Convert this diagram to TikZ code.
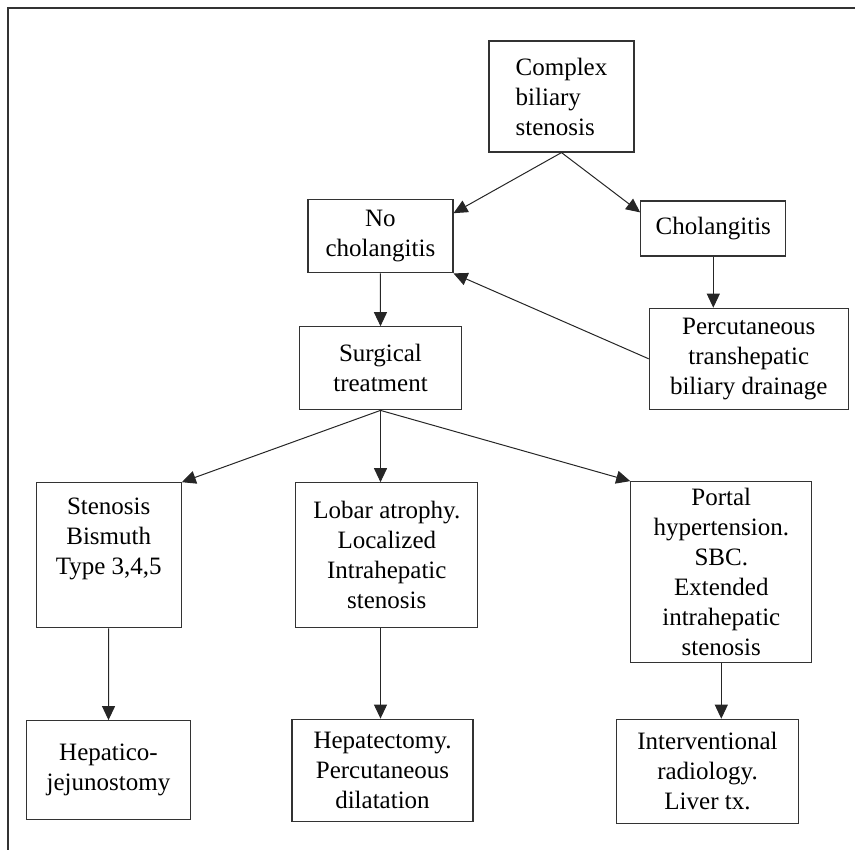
\documentclass[tikz,border=0pt]{standalone}
\usepackage{fontspec}
\setmainfont{Liberation Serif}
\usetikzlibrary{arrows.meta}

\tikzset{
  flowbox/.style={draw=black!80, line width=1.2pt, inner sep=0pt, align=center,
    font=\fontsize{25}{30}\selectfont},
  flowarrow/.style={draw=black!85, line width=1pt, -{Triangle[length=14pt,width=13pt]}},
}

\begin{document}
\begin{tikzpicture}[x=1pt,y=-1pt]
  \useasboundingbox (0,0) rectangle (855,850);
  % frame
  \draw[line width=1.5pt, black!80] (8,8) rectangle (864,864);

  % level 0
  \node[flowbox, align=left, minimum width=145pt, minimum height=111pt] (cbs) at (561.5,96.5) {Complex\\biliary\\stenosis};
  % level 1
  \node[flowbox, minimum width=145pt, minimum height=73pt] (nochol) at (380.4,236.3) {No\\cholangitis};
  \node[flowbox, minimum width=145pt, minimum height=55pt] (chol) at (713.3,228.5) {Cholangitis};
  % level 2
  \node[flowbox, minimum width=162pt, minimum height=83pt] (surg) at (380.5,368.3) {Surgical\\treatment};
  \node[flowbox, minimum width=199pt, minimum height=101pt] (ptbd) at (748.8,358.8) {Percutaneous\\transhepatic\\biliary drainage};
  % level 3
  \node[flowbox, minimum width=145pt, minimum height=145pt] (sten) at (108.7,555.3) {Stenosis\\Bismuth\\Type 3,4,5\\\strut};
  \node[flowbox, minimum width=182pt, minimum height=145pt] (lob) at (386.8,555.3) {Lobar atrophy.\\Localized\\Intrahepatic\\stenosis};
  \node[flowbox, minimum width=181pt, minimum height=181pt] (port) at (721.3,572.2) {Portal\\hypertension.\\SBC.\\Extended\\intrahepatic\\stenosis};
  % level 4
  \node[flowbox, minimum width=164pt, minimum height=99pt] (hep) at (108.5,770.2) {Hepatico-\\jejunostomy};
  \node[flowbox, minimum width=181pt, minimum height=102pt] (hepx) at (382.5,770.2) {Hepatectomy.\\Percutaneous\\dilatation};
  \node[flowbox, minimum width=182pt, minimum height=104pt] (intv) at (707.5,771.3) {Interventional\\radiology.\\Liver tx.};

  % level 0
  \draw[flowarrow] (cbs.south) -- ([yshift=-14pt]nochol.north east);
  \draw[flowarrow] (cbs.south) -- ([yshift=-12pt]chol.north west);
  % level 1
  \draw[flowarrow] (chol.south) -- (chol.south |- ptbd.north);
  \draw[flowarrow] (ptbd.west) -- (nochol.south east);
  \draw[flowarrow] (nochol.south) -- (surg.north);
  % level 2
  \draw[flowarrow] (surg.south) -- (sten.north east);
  \draw[flowarrow] (surg.south) -- (surg.south |- lob.north);
  \draw[flowarrow] (surg.south) -- (port.north west);
  % level 3
  \draw[flowarrow] (sten.south) -- (hep.north);
  \draw[flowarrow] (surg.south |- lob.south) -- (surg.south |- hepx.north);
  \draw[flowarrow] (port.south) -- (port.south |- intv.north);
\end{tikzpicture}
\end{document}
